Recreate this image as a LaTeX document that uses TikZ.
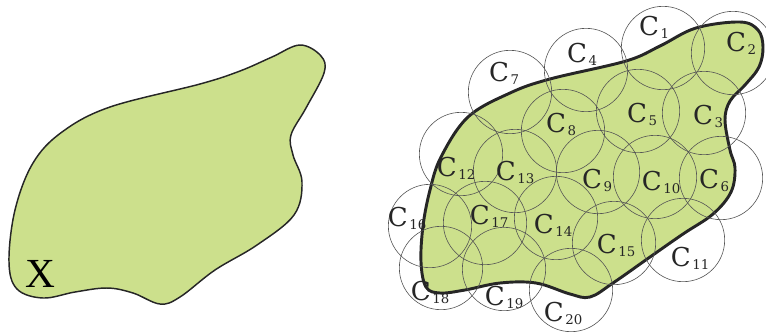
\documentclass[tikz,border=0pt]{standalone}
\usepackage{fontspec}
\usepackage{xcolor}
\usepackage{tikz}
\usetikzlibrary{positioning}
\newfontfamily\labfont{DejaVu Serif}
\newfontfamily\setfont{Liberation Serif}
\definecolor{regionfill}{HTML}{CCE08C}
\definecolor{ringgray}{HTML}{555555}
\newcommand{\clab}[1]{C\kern1.2pt\raisebox{-2.3pt}{\fontsize{10}{10}\selectfont #1}}

\begin{document}
\begin{tikzpicture}[
    x=0.75pt, y=-0.75pt,
    region/.style={draw=black!85, fill=regionfill, line width=#1},
    ring/.style={draw=ringgray, circle, line width=0.45pt, minimum size=62.5pt, inner sep=0pt},
    lab/.style={font=\labfont\fontsize{19.5}{19.5}\selectfont, text=black!85, inner sep=0pt},
]
    \useasboundingbox (0,0) rectangle (766,333);

    % set X
    \draw[region=1.1pt] plot[smooth cycle, tension=0.6] coordinates {
        (300,45) (321,56) (324,73) (306,108) (291,135) (293,155) (302,182)
        (294,215) (257,245) (215,270) (180,297) (160,304) (133,293) (107,288)
        (75,292) (43,298) (17,289) (9,262) (15,210) (33,163) (62,132)
        (110,107) (200,84) (240,71) (272,57)};
    \node[font=\setfont\fontsize{31}{31}\selectfont, inner sep=0pt] (x) at (40,274) {X};

    % set X with its cover
    \draw[region=2.2pt] plot[smooth cycle, tension=0.6] coordinates {
        (740,22) (758,30) (763,47) (759,67) (745,85) (730,101) (725,120)
        (730,150) (735,168) (731,192) (713,214) (683,234) (650,257) (613,283)
        (590,297) (570,294) (536,283) (500,283) (465,290) (440,293) (426,287)
        (421,262) (423,226) (430,190) (441,157) (468,117) (510,93) (550,79)
        (626,61) (660,46) (696,28)};

    \foreach \n/\x/\y in {1/663/48, 2/733/53, 3/704/113, 4/586/70, 5/638/111,
        6/721/178, 7/510/92, 8/563/131, 9/598/172, 10/655/177, 11/683/240,
        12/461/154, 13/515/171, 14/556/218, 15/614/243, 16/430/226,
        17/485/223, 18/441/268, 19/504/269, 20/571/290}
        \node[ring] (c\n) at (\x,\y) {};

    \foreach \n/\x/\y in {1/654/27, 2/741/43, 3/708/116, 4/582/54, 5/642/114,
        6/714/180, 7/504/73, 8/561/124, 9/597/180, 10/661/182, 11/690/258,
        12/456/168, 13/515/172, 14/553/225, 15/616/245, 16/407/218,
        17/489/216, 18/430/292, 19/504/297, 20/563/313}
        \node[lab] (l\n) at (\x,\y) {\clab{\n}};
\end{tikzpicture}
\end{document}
